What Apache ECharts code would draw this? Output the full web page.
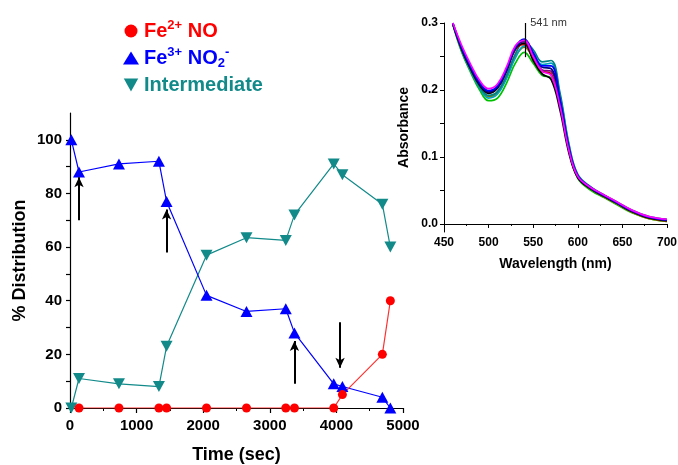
<!DOCTYPE html>
<html>
<head>
<meta charset="utf-8">
<script src="https://cdn.jsdelivr.net/npm/echarts@6/dist/echarts.min.js"></script>
<style>
  html, body { margin: 0; padding: 0; background: #fff; }
  #chart { width: 678px; height: 465px; }
</style>
</head>
<body>
<div id="chart"></div>
<script>
// Speciation over time (% of total)
const times = [20, 135, 735, 1335, 1450, 2050, 2650, 3240, 3370, 3960, 4090, 4690, 4810];
const feNO = [null, 0, 0, 0, 0, 0, 0, 0, 0, 0, 5, 20, 40];
const feNO2 = [100, 88, 91, 92, 77, 42, 36, 37, 28, 9, 8, 4, 0];
const intermediate = [0, 11, 9, 8, 23, 57, 63.5, 62.5, 72, 91, 87, 76, 60];

// Arrows: [time, from %, to %]
const arrows = [[135, 70, 86], [1450, 58, 74], [3370, 9, 25], [4055, 32, 15]];

const pctLabels = [0, 20, 40, 60, 80, 100];
const pctTicks = [0, 10, 20, 30, 40, 50, 60, 70, 80, 90, 100];

// UV-vis spectra recorded during the reaction
const wavelengths = [460, 470, 480, 490, 500, 510, 520, 530, 540, 550, 560, 570, 580, 590, 600, 615, 630, 645, 660, 680, 700];
const specMagenta = [0.300, 0.266, 0.238, 0.214, 0.202, 0.209, 0.234, 0.266, 0.274, 0.250, 0.228, 0.222, 0.176, 0.110, 0.071, 0.054, 0.043, 0.032, 0.021, 0.011, 0.007];
const specBlue    = [0.300, 0.263, 0.235, 0.211, 0.199, 0.206, 0.231, 0.264, 0.276, 0.256, 0.236, 0.236, 0.186, 0.114, 0.072, 0.054, 0.042, 0.031, 0.020, 0.010, 0.006];
const specNavy    = [0.299, 0.262, 0.233, 0.209, 0.197, 0.204, 0.229, 0.262, 0.274, 0.254, 0.234, 0.232, 0.184, 0.113, 0.071, 0.053, 0.042, 0.031, 0.020, 0.010, 0.006];
const specBlack   = [0.298, 0.260, 0.231, 0.207, 0.195, 0.203, 0.229, 0.262, 0.270, 0.244, 0.224, 0.216, 0.170, 0.106, 0.069, 0.052, 0.041, 0.030, 0.019, 0.009, 0.005];
const specGreen   = [0.297, 0.256, 0.226, 0.200, 0.184, 0.188, 0.210, 0.240, 0.256, 0.240, 0.222, 0.218, 0.178, 0.110, 0.068, 0.050, 0.039, 0.028, 0.017, 0.008, 0.004];
const specTeal    = [0.298, 0.259, 0.230, 0.205, 0.192, 0.198, 0.222, 0.254, 0.272, 0.260, 0.242, 0.244, 0.196, 0.120, 0.074, 0.055, 0.043, 0.032, 0.021, 0.011, 0.007];
const specOlive   = [0.298, 0.258, 0.229, 0.204, 0.190, 0.196, 0.219, 0.250, 0.264, 0.248, 0.228, 0.224, 0.180, 0.111, 0.070, 0.052, 0.040, 0.029, 0.018, 0.008, 0.004];
const specRed     = [0.299, 0.261, 0.232, 0.208, 0.196, 0.203, 0.228, 0.260, 0.268, 0.246, 0.228, 0.224, 0.178, 0.110, 0.070, 0.052, 0.041, 0.030, 0.019, 0.009, 0.005];
const specPurple  = [0.299, 0.262, 0.234, 0.210, 0.198, 0.205, 0.230, 0.263, 0.272, 0.250, 0.230, 0.228, 0.181, 0.112, 0.071, 0.053, 0.042, 0.031, 0.020, 0.010, 0.006];
const specCyan    = [0.298, 0.258, 0.228, 0.203, 0.188, 0.194, 0.217, 0.248, 0.266, 0.254, 0.238, 0.240, 0.192, 0.118, 0.073, 0.054, 0.042, 0.031, 0.020, 0.010, 0.006];
const peakWavelength = 541;
const absLabels = [0, 0.1, 0.2, 0.3];
const absTicks = [0, 0.05, 0.1, 0.15, 0.2, 0.25, 0.3];

const FONT = '"Liberation Sans", Arial, sans-serif';
const RED = '#ff0000', BLUE = '#0000ff', TEAL = '#128a8a';
const DOWN_TRIANGLE = 'path://M0,0 L10,0 L5,9 Z';

const spectra = [
  ['#00c000', specGreen], ['#808000', specOlive], ['#00a0c0', specCyan], ['#008080', specTeal],
  ['#cc0000', specRed], ['#000000', specBlack], ['#800080', specPurple], ['#000080', specNavy],
  ['#0000ff', specBlue], ['#ff00ff', specMagenta]
];

function pairs(xs, ys) { return xs.map((x, i) => [x, ys[i]]); }

const chart = echarts.init(document.getElementById('chart'), null, { renderer: 'canvas' });

const series = [
  {
    name: 'Int', type: 'line', xAxisIndex: 0, yAxisIndex: 0,
    data: pairs(times, intermediate),
    symbol: DOWN_TRIANGLE, symbolSize: [12, 11],
    itemStyle: { color: TEAL }, lineStyle: { color: TEAL, width: 1.2 }
  },
  {
    name: 'FeNO2', type: 'line', xAxisIndex: 0, yAxisIndex: 0,
    data: pairs(times, feNO2),
    symbol: 'triangle', symbolSize: [12, 11],
    itemStyle: { color: BLUE }, lineStyle: { color: BLUE, width: 1.2 }
  },
  {
    name: 'FeNO', type: 'line', xAxisIndex: 0, yAxisIndex: 0,
    data: pairs(times, feNO),
    symbol: 'circle', symbolSize: 9,
    itemStyle: { color: RED }, lineStyle: { color: '#ff3030', width: 1.2 }
  },
  {
    name: 'arrows', type: 'line', xAxisIndex: 0, yAxisIndex: 0, data: [],
    markLine: {
      silent: true, symbol: ['none', 'arrow'], symbolSize: [7, 10],
      lineStyle: { color: '#000', width: 2, type: 'solid' },
      label: { show: false },
      data: arrows.map(a => [{ coord: [a[0], a[1]] }, { coord: [a[0], a[2]] }])
    }
  }
];

spectra.forEach(([color, values], i) => {
  const s = {
    name: 'spec' + i, type: 'line', xAxisIndex: 1, yAxisIndex: 1,
    data: pairs(wavelengths, values),
    smooth: 0.4, showSymbol: false, clip: false,
    lineStyle: { color: color, width: 1.7 }
  };
  if (i === spectra.length - 1) {
    s.markLine = {
      silent: true, symbol: 'none',
      lineStyle: { color: '#000', width: 1.2, type: 'solid' },
      label: { show: false },
      data: [[{ coord: [peakWavelength, 0.249] }, { coord: [peakWavelength, 0.3] }]]
    };
    s.markPoint = {
      silent: true, symbol: 'circle', symbolSize: 0,
      data: [{ coord: [peakWavelength, 0.3] }],
      label: {
        show: true, position: 'right', distance: 5,
        formatter: peakWavelength + ' nm',
        color: '#333', fontFamily: FONT, fontSize: 11
      }
    };
  }
  series.push(s);
});

const option = {
  backgroundColor: '#fff',
  animation: false,
  textStyle: { fontFamily: FONT },
  legend: {
    orient: 'vertical', left: 118, top: 14,
    itemWidth: 16, itemHeight: 13, itemGap: 5,
    selectedMode: false,
    data: [
      { name: 'FeNO', icon: 'circle' },
      { name: 'FeNO2', icon: 'triangle' },
      { name: 'Int', icon: DOWN_TRIANGLE }
    ],
    formatter: function (name) {
      if (name === 'FeNO') return '{r|Fe}{rs|2+}{r| NO}';
      if (name === 'FeNO2') return '{b|Fe}{bs|3+}{b| NO}{bb|2}{bs|-}';
      return '{t|Intermediate}';
    },
    textStyle: {
      fontFamily: FONT, fontWeight: 'bold', fontSize: 20,
      rich: {
        r:  { color: RED,  fontFamily: FONT, fontWeight: 'bold', fontSize: 20, lineHeight: 24 },
        rs: { color: RED,  fontFamily: FONT, fontWeight: 'bold', fontSize: 13, lineHeight: 13, verticalAlign: 'top' },
        b:  { color: BLUE, fontFamily: FONT, fontWeight: 'bold', fontSize: 20, lineHeight: 24 },
        bs: { color: BLUE, fontFamily: FONT, fontWeight: 'bold', fontSize: 13, lineHeight: 13, verticalAlign: 'top' },
        bb: { color: BLUE, fontFamily: FONT, fontWeight: 'bold', fontSize: 13, lineHeight: 13, verticalAlign: 'bottom' },
        t:  { color: TEAL, fontFamily: FONT, fontWeight: 'bold', fontSize: 20, lineHeight: 24 }
      }
    }
  },
  grid: [
    { left: 70, right: 275, top: 113, bottom: 57, outerBoundsMode: 'none' },
    { left: 444, right: 11, top: 23, bottom: 233, outerBoundsMode: 'none' }
  ],
  xAxis: [
    {
      gridIndex: 0, type: 'value', min: 0, max: 5000, interval: 1000,
      name: 'Time (sec)', nameLocation: 'middle', nameGap: 38,
      nameTextStyle: { color: '#000', fontFamily: FONT, fontWeight: 'bold', fontSize: 18 },
      axisLine: { lineStyle: { color: '#000', width: 1.2 } },
      axisTick: { inside: false, length: 5, lineStyle: { color: '#000', width: 1.2 } },
      minorTick: { show: true, splitNumber: 2, length: 3, lineStyle: { color: '#000', width: 1 } },
      splitLine: { show: false },
      axisLabel: { color: '#000', fontFamily: FONT, fontWeight: 'bold', fontSize: 15, margin: 10, formatter: v => String(v) }
    },
    {
      gridIndex: 1, type: 'value', min: 450, max: 700, interval: 50,
      name: 'Wavelength (nm)', nameLocation: 'middle', nameGap: 25,
      nameTextStyle: { color: '#000', fontFamily: FONT, fontWeight: 'bold', fontSize: 14 },
      axisLine: { lineStyle: { color: '#000', width: 1 } },
      axisTick: { inside: false, length: 4, lineStyle: { color: '#000', width: 1 } },
      minorTick: { show: true, splitNumber: 2, length: 2, lineStyle: { color: '#000', width: 1 } },
      splitLine: { show: false },
      axisLabel: { color: '#000', fontFamily: FONT, fontWeight: 'bold', fontSize: 12, margin: 5, formatter: v => String(v) }
    }
  ],
  yAxis: [
    {
      gridIndex: 0, type: 'value', min: 0, max: 110, interval: 20,
      name: '% Distribution', nameLocation: 'middle', nameGap: 41,
      nameTextStyle: { color: '#000', fontFamily: FONT, fontWeight: 'bold', fontSize: 18 },
      axisLine: { lineStyle: { color: '#000', width: 1.2 } },
      axisTick: { inside: false, length: 4, customValues: pctTicks, lineStyle: { color: '#000', width: 1.2 } },
      splitLine: { show: false },
      axisLabel: { color: '#000', fontFamily: FONT, fontWeight: 'bold', fontSize: 15, margin: 8, customValues: pctLabels }
    },
    {
      gridIndex: 1, type: 'value', min: -0.012, max: 0.3,
      name: 'Absorbance', nameLocation: 'middle', nameGap: 33,
      nameTextStyle: { color: '#000', fontFamily: FONT, fontWeight: 'bold', fontSize: 14 },
      axisLine: { lineStyle: { color: '#000', width: 1 } },
      axisTick: { inside: false, length: 4, customValues: absTicks, lineStyle: { color: '#000', width: 1 } },
      splitLine: { show: false },
      axisLabel: {
        color: '#000', fontFamily: FONT, fontWeight: 'bold', fontSize: 12, margin: 6,
        customValues: absLabels,
        formatter: v => v.toFixed(1)
      }
    }
  ],
  series: series
};

chart.setOption(option);
</script>
</body>
</html>
